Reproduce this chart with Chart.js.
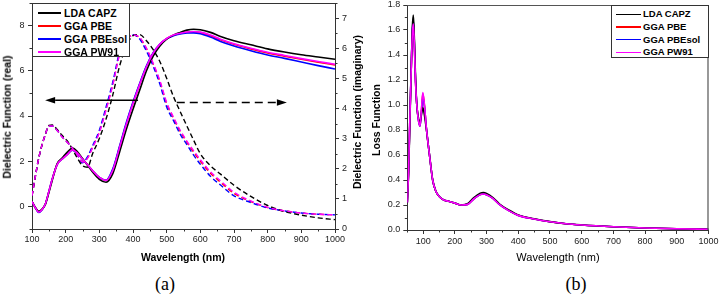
<!DOCTYPE html>
<html>
<head>
<meta charset="utf-8">
<script src="https://cdn.jsdelivr.net/npm/chart.js@4.4.1/dist/chart.umd.min.js"></script>
<style>
  html, body { margin: 0; padding: 0; background: #fff; }
  body { width: 719px; height: 294px; position: relative; overflow: hidden; font-family: "Liberation Sans", Arial, sans-serif; }
  .wrap { position: absolute; top: 0; height: 266px; }
  .ttl { position: absolute; white-space: nowrap; transform: translate(-50%, -50%); color: #000; line-height: 1; }
  .rot { transform: translate(-50%, -50%) rotate(-90deg); }
  .tag { position: absolute; transform: translate(-50%, -50%); font-family: "Liberation Serif", "Times New Roman", serif; font-size: 18px; line-height: 1; }
  .legend { position: absolute; background: #fff; border: 1px solid #333; box-sizing: border-box; }
  .legend .ln { position: absolute; }
  .legend .tx { position: absolute; font-weight: bold; white-space: nowrap; line-height: 1; transform: translateY(-50%); }
</style>
</head>
<body>
<div class="wrap" style="left:0;width:368px"><canvas id="chartA"></canvas></div>
<div class="wrap" style="left:368px;width:351px"><canvas id="chartB"></canvas></div>

<div class="ttl rot" style="left:7px;top:117px;font-size:10.5px;font-weight:bold">Dielectric Function (real)</div>
<div class="ttl rot" style="left:357px;top:112px;font-size:10.5px;font-weight:bold">Dielectric Function (imaginary)</div>
<div class="ttl" style="left:183px;top:257px;font-size:10.5px;font-weight:bold">Wavelength (nm)</div>
<div class="ttl rot" style="left:376px;top:120px;font-size:10.5px;font-weight:bold">Loss Function</div>
<div class="ttl" style="left:558px;top:257px;font-size:11px">Wavelength (nm)</div>
<div class="tag" style="left:165px;top:284px">(a)</div>
<div class="tag" style="left:576px;top:284px">(b)</div>

<div class="legend" id="legA" style="left:32px;top:3px;width:98px;height:54px"></div>
<div class="legend" id="legB" style="left:611px;top:5px;width:98px;height:53px"></div>

<script>
// series
const names = ['LDA CAPZ', 'GGA PBE', 'GGA PBEsol', 'GGA PW91'];
const colors = ['#000000', '#ff0000', '#0000ff', '#ff00ff'];

// panel (a): wavelength grid (nm)
const wlA = [100,110,120,130,140,150,160,175,190,205,220,235,250,265,280,300,320,340,360,380,400,420,440,460,480,500,520,540,560,580,600,630,660,700,750,800,850,900,950,1000];

// real part (left axis)
const realLDA   = [0.22,-0.05,-0.22,-0.12,0.10,0.60,1.15,1.90,2.15,2.40,2.58,2.42,2.12,1.82,1.52,1.20,1.07,1.45,2.40,3.40,4.30,5.15,6.00,6.65,7.10,7.40,7.58,7.70,7.80,7.84,7.82,7.70,7.52,7.33,7.15,6.97,6.83,6.71,6.61,6.51];
const realPBE   = [0.22,-0.06,-0.26,-0.14,0.12,0.65,1.20,1.86,2.10,2.30,2.50,2.36,2.10,1.84,1.58,1.28,1.15,1.61,2.62,3.64,4.57,5.41,6.19,6.78,7.17,7.42,7.57,7.65,7.70,7.72,7.69,7.55,7.37,7.17,6.97,6.79,6.65,6.51,6.38,6.26];
const realPBEsol= [0.22,-0.06,-0.27,-0.15,0.12,0.66,1.21,1.86,2.10,2.30,2.49,2.35,2.09,1.84,1.58,1.28,1.16,1.66,2.66,3.70,4.62,5.45,6.22,6.80,7.18,7.42,7.55,7.63,7.67,7.68,7.64,7.49,7.30,7.10,6.89,6.70,6.55,6.39,6.23,6.08];
const realPW91  = [0.22,-0.06,-0.26,-0.14,0.12,0.65,1.20,1.86,2.10,2.30,2.50,2.36,2.10,1.84,1.58,1.28,1.15,1.60,2.60,3.62,4.55,5.40,6.18,6.78,7.18,7.43,7.58,7.66,7.72,7.74,7.71,7.58,7.40,7.20,7.00,6.82,6.68,6.54,6.41,6.29];

// imaginary part (right axis)
const imagLDA   = [1.10,1.75,2.35,2.80,3.15,3.44,3.45,3.30,3.10,2.92,2.65,2.35,2.10,2.05,2.50,3.00,3.65,4.45,5.40,6.05,6.42,6.45,6.25,5.95,5.55,5.00,4.40,3.90,3.42,2.95,2.50,2.10,1.82,1.45,1.08,0.78,0.58,0.46,0.37,0.31];
const imagPBE   = [1.10,1.75,2.35,2.80,3.15,3.42,3.42,3.27,3.05,2.88,2.68,2.45,2.22,2.36,2.72,3.22,3.98,4.80,5.80,6.26,6.44,6.34,5.98,5.47,4.88,4.16,3.68,3.24,2.88,2.55,2.25,1.85,1.55,1.18,0.91,0.71,0.60,0.53,0.49,0.47];
const imagPBEsol= [1.10,1.75,2.35,2.80,3.15,3.42,3.42,3.27,3.05,2.88,2.68,2.45,2.20,2.40,2.76,3.28,4.05,4.88,5.86,6.30,6.45,6.30,5.90,5.40,4.80,4.05,3.60,3.15,2.80,2.45,2.15,1.75,1.46,1.10,0.88,0.70,0.60,0.53,0.49,0.47];
const imagPW91  = [1.10,1.75,2.35,2.80,3.15,3.42,3.42,3.27,3.05,2.88,2.68,2.45,2.22,2.35,2.70,3.20,3.95,4.78,5.78,6.25,6.44,6.36,6.00,5.50,4.92,4.20,3.72,3.28,2.92,2.60,2.30,1.90,1.60,1.22,0.93,0.72,0.60,0.53,0.49,0.47];

// panel (b): loss function
const wlB = [50,54,58,62,66,69,72,76,80,85,90,95,99,104,110,120,130,140,150,165,180,200,220,240,260,280,290,300,320,340,370,400,450,500,550,600,700,800,900,1000];
const lossLDA   = [0.22,0.45,0.85,1.25,1.62,1.72,1.55,1.22,1.00,0.90,0.86,0.93,0.98,0.92,0.81,0.60,0.40,0.31,0.27,0.24,0.23,0.215,0.20,0.21,0.26,0.295,0.30,0.293,0.26,0.21,0.16,0.12,0.09,0.067,0.05,0.04,0.026,0.016,0.010,0.006];
const lossPBE   = [0.22,0.47,0.88,1.25,1.58,1.66,1.51,1.18,1.00,0.88,0.83,0.97,1.09,1.00,0.82,0.60,0.40,0.31,0.27,0.24,0.23,0.215,0.20,0.205,0.25,0.283,0.288,0.282,0.253,0.205,0.155,0.117,0.088,0.066,0.05,0.04,0.026,0.016,0.010,0.006];
const lossPBEsol= [0.22,0.47,0.88,1.26,1.60,1.68,1.52,1.19,1.00,0.88,0.83,0.95,1.06,0.99,0.82,0.60,0.40,0.31,0.27,0.24,0.23,0.215,0.20,0.205,0.25,0.283,0.288,0.282,0.253,0.205,0.155,0.117,0.088,0.066,0.05,0.04,0.026,0.016,0.010,0.006];
const lossPW91  = [0.22,0.47,0.88,1.25,1.57,1.65,1.50,1.18,1.00,0.88,0.83,0.98,1.10,1.00,0.82,0.60,0.40,0.31,0.27,0.24,0.23,0.215,0.20,0.205,0.25,0.283,0.288,0.282,0.253,0.205,0.155,0.117,0.088,0.066,0.05,0.04,0.026,0.016,0.010,0.006];

// tick labels
const xTicksA = [100,200,300,400,500,600,700,800,900,1000];
const yTicksA = [0,2,4,6,8];
const y2TicksA = [0,1,2,3,4,5,6,7];
const xTicksB = [100,200,300,400,500,600,700,800,900,1000];
const yTicksB = [0,0.2,0.4,0.6,0.8,1.0,1.2,1.4,1.6,1.8];

// arrows in data units: [from nm, to nm, value]
const arrowReal = [415, 139, 4.7];
const arrowImag = [530, 857, 4.2];

Chart.defaults.font.family = '"Liberation Sans", Arial, sans-serif';
Chart.defaults.color = '#222';

const drawOrder = [1, 3, 2, 0];

function lineSet(i, xs, ys, yAxisID, dashed) {
    return {
        label: names[i],
        data: xs.map((x, k) => ({ x: x, y: ys[k] })),
        borderColor: colors[i],
        backgroundColor: colors[i],
        borderWidth: dashed ? 1.4 : 1.6,
        borderDash: dashed ? [5, 3] : [],
        pointRadius: 0,
        cubicInterpolationMode: 'monotone',
        fill: false,
        yAxisID: yAxisID,
        order: drawOrder[i]
    };
}

// fixed box size, and no extra room for the end labels
function fixSize(w, h) {
    return s => {
        if (w) s.width = w;
        if (h) s.height = h;
        s.paddingTop = 0; s.paddingBottom = 0;
        s.paddingLeft = 0; s.paddingRight = 0;
    };
}

function axis(extra) {
    return Object.assign({
        type: 'linear',
        grid: { drawOnChartArea: false, drawTicks: true, tickLength: 4, color: '#333' },
        border: { display: true, color: '#333', width: 1 },
        ticks: { font: { size: 9 }, color: '#222', padding: 3, autoSkip: false, maxRotation: 0 }
    }, extra);
}

const minorTicks = {
    id: 'minorTicks',
    afterDraw(chart, args, opts) {
        const ctx = chart.ctx;
        ctx.save();
        ctx.strokeStyle = '#333';
        ctx.lineWidth = 1;
        for (const id in opts.steps) {
            const sc = chart.scales[id];
            const step = opts.steps[id];
            const majors = sc.ticks.map(t => t.value);
            for (let k = Math.ceil(sc.min / step - 1e-9); k * step <= sc.max + 1e-9; k++) {
                const v = k * step;
                if (majors.some(m => Math.abs(m - v) < 1e-6)) continue;
                const p = Math.round(sc.getPixelForValue(v)) + 0.5;
                ctx.beginPath();
                if (sc.position === 'bottom') {
                    ctx.moveTo(p, sc.top); ctx.lineTo(p, sc.top + 2.5);
                } else if (sc.position === 'left') {
                    ctx.moveTo(sc.right, p); ctx.lineTo(sc.right - 2.5, p);
                } else {
                    ctx.moveTo(sc.left, p); ctx.lineTo(sc.left + 2.5, p);
                }
                ctx.stroke();
            }
        }
        ctx.restore();
    }
};

const frame = {
    id: 'frame',
    afterDraw(chart, args, opts) {
        const a = chart.chartArea;
        const ctx = chart.ctx;
        ctx.save();
        ctx.strokeStyle = opts.color || '#333';
        ctx.lineWidth = 1.2;
        ctx.beginPath();
        ctx.moveTo(a.left, a.top + 0.5);
        ctx.lineTo(a.right, a.top + 0.5);
        if (opts.right) {
            ctx.moveTo(a.right - 0.5, a.top);
            ctx.lineTo(a.right - 0.5, a.bottom);
        }
        ctx.stroke();
        ctx.restore();
    }
};

const arrows = {
    id: 'arrows',
    afterDatasetsDraw(chart, args, opts) {
        const ctx = chart.ctx;
        const xs = chart.scales.x;
        ctx.save();
        ctx.strokeStyle = '#000';
        ctx.fillStyle = '#000';
        ctx.lineWidth = 1.6;
        opts.list.forEach(a => {
            const ys = chart.scales[a.axis];
            const x0 = xs.getPixelForValue(a.from);
            const x1 = xs.getPixelForValue(a.to);
            const y = ys.getPixelForValue(a.value);
            const dir = x1 > x0 ? 1 : -1;
            const head = 10;
            ctx.setLineDash(a.dash);
            ctx.beginPath();
            ctx.moveTo(x0, y);
            ctx.lineTo(x1 - dir * head, y);
            ctx.stroke();
            ctx.setLineDash([]);
            ctx.beginPath();
            ctx.moveTo(x1, y);
            ctx.lineTo(x1 - dir * head, y - 3.2);
            ctx.lineTo(x1 - dir * head, y + 3.2);
            ctx.closePath();
            ctx.fill();
        });
        ctx.restore();
    }
};

const realSets = [realLDA, realPBE, realPBEsol, realPW91];
const imagSets = [imagLDA, imagPBE, imagPBEsol, imagPW91];
const lossSets = [lossLDA, lossPBE, lossPBEsol, lossPW91];

const dataA = [];
realSets.forEach((s, i) => dataA.push(lineSet(i, wlA, s, 'y', false)));
imagSets.forEach((s, i) => dataA.push(lineSet(i, wlA, s, 'y2', true)));

new Chart(document.getElementById('chartA').getContext('2d'), {
    type: 'line',
    data: { datasets: dataA },
    options: {
        responsive: true,
        maintainAspectRatio: false,
        animation: false,
        layout: { padding: { top: 3, left: 0, right: 0, bottom: 0 } },
        plugins: {
            legend: { display: false },
            tooltip: { enabled: false },
            minorTicks: { steps: { x: 50, y: 1, y2: 0.5 } },
            frame: { right: false },
            arrows: { list: [
                { from: arrowReal[0], to: arrowReal[1], value: arrowReal[2], axis: 'y', dash: [] },
                { from: arrowImag[0], to: arrowImag[1], value: arrowImag[2], axis: 'y2', dash: [8, 5] }
            ] }
        },
        scales: {
            x: axis({
                position: 'bottom', min: 100, max: 1000,
                afterBuildTicks: s => { s.ticks = xTicksA.map(v => ({ value: v })); },
                afterFit: fixSize(0, 37),
                ticks: { font: { size: 9 }, color: '#222', padding: 1, autoSkip: false, maxRotation: 0, callback: v => String(v) }
            }),
            y: axis({
                position: 'left', min: -1, max: 9,
                afterBuildTicks: s => { s.ticks = yTicksA.map(v => ({ value: v })); },
                afterFit: fixSize(32, 0),
                ticks: { font: { size: 9 }, color: '#222', padding: 3.5, callback: v => String(v) }
            }),
            y2: axis({
                position: 'right', min: 0, max: 7.5,
                afterBuildTicks: s => { s.ticks = y2TicksA.map(v => ({ value: v })); },
                afterFit: fixSize(33, 0),
                ticks: { font: { size: 9 }, color: '#222', padding: 3, callback: v => String(v) }
            })
        }
    },
    plugins: [minorTicks, frame, arrows]
});

new Chart(document.getElementById('chartB').getContext('2d'), {
    type: 'line',
    data: { datasets: lossSets.map((s, i) => lineSet(i, wlB, s, 'y', false)) },
    options: {
        responsive: true,
        maintainAspectRatio: false,
        animation: false,
        layout: { padding: { top: 5, left: 0, right: 10.5, bottom: 0 } },
        plugins: {
            legend: { display: false },
            tooltip: { enabled: false },
            minorTicks: { steps: { x: 50, y: 0.1 } },
            frame: { right: true, color: '#555' }
        },
        scales: {
            x: axis({
                position: 'bottom', min: 50, max: 1000,
                afterBuildTicks: s => { s.ticks = xTicksB.map(v => ({ value: v })); },
                afterFit: fixSize(0, 36),
                ticks: { font: { size: 9 }, color: '#222', padding: 2, autoSkip: false, maxRotation: 0, callback: v => String(v) }
            }),
            y: axis({
                position: 'left', min: 0, max: 1.8,
                afterBuildTicks: s => { s.ticks = yTicksB.map(v => ({ value: v })); },
                afterFit: fixSize(39.3, 0),
                ticks: { font: { size: 9 }, color: '#222', padding: 3, callback: v => v.toFixed(1) }
            })
        }
    },
    plugins: [minorTicks, frame]
});

function makeLegend(el, x0, x1, textX, firstY, gap, size, lw) {
    names.forEach((n, i) => {
        const y = firstY + i * gap;
        const ln = document.createElement('div');
        ln.className = 'ln';
        ln.style.left = x0 + 'px';
        ln.style.width = (x1 - x0) + 'px';
        ln.style.top = (y - lw / 2) + 'px';
        ln.style.height = lw + 'px';
        ln.style.background = colors[i];
        el.appendChild(ln);
        const tx = document.createElement('div');
        tx.className = 'tx';
        tx.style.left = textX + 'px';
        tx.style.top = y + 'px';
        tx.style.fontSize = size + 'px';
        tx.textContent = n;
        el.appendChild(tx);
    });
}

makeLegend(document.getElementById('legA'), 5, 28, 31, 9.3, 13, 10.5, 2);
makeLegend(document.getElementById('legB'), 4, 29, 31, 8.3, 12.7, 9.5, 1.5);
</script>
</body>
</html>
